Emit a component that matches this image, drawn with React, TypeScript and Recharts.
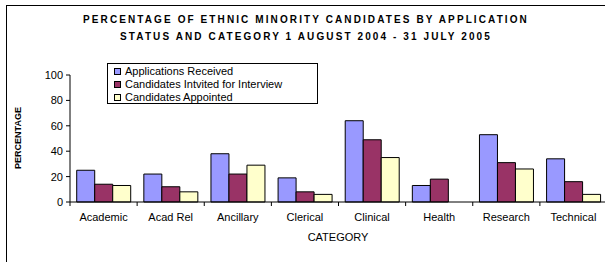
import React from 'react';
import { BarChart, Bar, XAxis, YAxis } from 'recharts';

const categories = ['Academic', 'Acad Rel', 'Ancillary', 'Clerical', 'Clinical', 'Health', 'Research', 'Technical'];
const applicationsReceived = [25, 22, 38, 19, 64, 13, 53, 34];
const invitedForInterview = [14, 12, 22, 8, 49, 18, 31, 16];
const appointed = [13, 8, 29, 6, 35, 0, 26, 6];
const yTicks = [0, 20, 40, 60, 80, 100];

const seriesNames = ['Applications Received', 'Candidates Intvited for Interview', 'Candidates Appointed'];
const seriesColors = ['#9999FF', '#993366', '#FFFFCC'];

const data = categories.map((c, i) => ({
  category: c,
  a: applicationsReceived[i],
  b: invitedForInterview[i],
  c: appointed[i],
}));

const FONT = "Arial, 'Liberation Sans', sans-serif";

const CHART_W = 612;
const MARGIN = { top: 75, right: 5, bottom: 0, left: 30 };
const Y_W = 40;
const PLOT_W = CHART_W - MARGIN.left - MARGIN.right - Y_W;
const HALF_BAND = PLOT_W / categories.length / 2;
const X_TICK_SIZE = 4;
const X_TICK_MARGIN = 7;

const CategoryTick = (props: any) => {
  const { x, y, payload, index } = props;
  const top = y - X_TICK_SIZE - X_TICK_MARGIN;
  return (
    <g>
      <line x1={x - HALF_BAND} x2={x - HALF_BAND} y1={top} y2={top + 4} stroke="#000" strokeWidth={1} />
      {index === categories.length - 1 ? (
        <line x1={x + HALF_BAND} x2={x + HALF_BAND} y1={top} y2={top + 4} stroke="#000" strokeWidth={1} />
      ) : null}
      <text x={x} y={y} dy="0.71em" textAnchor="middle" fontFamily={FONT} fontSize={11} fill="#000">
        {payload.value}
      </text>
    </g>
  );
};

const LegendBox = () => (
  <div
    style={{
      position: 'absolute',
      left: 107,
      top: 63,
      border: '1px solid #000',
      background: '#fff',
      width: 211,
      height: 41,
      padding: '1px 0 0 6px',
      boxSizing: 'border-box',
      fontFamily: FONT,
      fontSize: 11,
      color: '#000',
    }}
  >
    {seriesNames.map((n, i) => (
      <div
        key={n}
        style={{ display: 'flex', alignItems: 'center', height: 13, lineHeight: '13px', whiteSpace: 'nowrap' }}
      >
        <span
          style={{
            display: 'inline-block',
            width: 5,
            height: 5,
            border: '1px solid #000',
            background: seriesColors[i],
            marginRight: 4,
            flex: 'none',
          }}
        />
        <span>{n}</span>
      </div>
    ))}
  </div>
);

export default function App() {
  return (
    <div style={{ position: 'absolute', left: 0, top: 0, width: 605, height: 262, overflow: 'hidden', background: '#fff' }}>
      <div
        style={{
          position: 'absolute',
          left: 6,
          top: 5,
          width: 700,
          height: 400,
          borderLeft: '1px solid #000',
          borderTop: '1px solid #000',
        }}
      />
      <div
        style={{
          position: 'absolute',
          left: 0,
          top: 11,
          width: 612,
          textAlign: 'center',
          fontFamily: FONT,
          fontWeight: 'bold',
          fontSize: 10,
          letterSpacing: 2.1,
          lineHeight: '17px',
          color: '#000',
        }}
      >
        <div>PERCENTAGE OF ETHNIC MINORITY CANDIDATES BY APPLICATION</div>
        <div>STATUS AND CATEGORY 1 AUGUST 2004 - 31 JULY 2005</div>
      </div>
      <div style={{ position: 'absolute', left: 0, top: 0 }}>
        <BarChart
          width={CHART_W}
          height={262}
          data={data}
          margin={MARGIN}
          barCategoryGap="10%"
          barGap={0}
        >
          <XAxis
            dataKey="category"
            axisLine={{ stroke: '#000' }}
            tickLine={false}
            tickSize={X_TICK_SIZE}
            tickMargin={X_TICK_MARGIN}
            interval={0}
            tick={<CategoryTick />}
            height={60}
            label={{
              content: () => (
                <text x={338} y={241} textAnchor="middle" fontFamily={FONT} fontSize={11} fill="#000">
                  CATEGORY
                </text>
              ),
            }}
          />
          <YAxis
            domain={[0, 100]}
            ticks={yTicks}
            width={Y_W}
            axisLine={{ stroke: '#000' }}
            tickLine={{ stroke: '#000' }}
            tickSize={4}
            tickMargin={3}
            tick={{ fill: '#000', fontSize: 11, fontFamily: FONT }}
            label={{
              content: () => (
                <text
                  x={21}
                  y={138}
                  textAnchor="middle"
                  fontFamily={FONT}
                  fontSize={9}
                  fontWeight="bold"
                  fill="#000"
                  transform="rotate(-90 21 138)"
                >
                  PERCENTAGE
                </text>
              ),
            }}
          />
          <Bar dataKey="a" name={seriesNames[0]} fill={seriesColors[0]} stroke="#000" strokeWidth={1} isAnimationActive={false} />
          <Bar dataKey="b" name={seriesNames[1]} fill={seriesColors[1]} stroke="#000" strokeWidth={1} isAnimationActive={false} />
          <Bar dataKey="c" name={seriesNames[2]} fill={seriesColors[2]} stroke="#000" strokeWidth={1} isAnimationActive={false} />
        </BarChart>
      </div>
      <LegendBox />
    </div>
  );
}
